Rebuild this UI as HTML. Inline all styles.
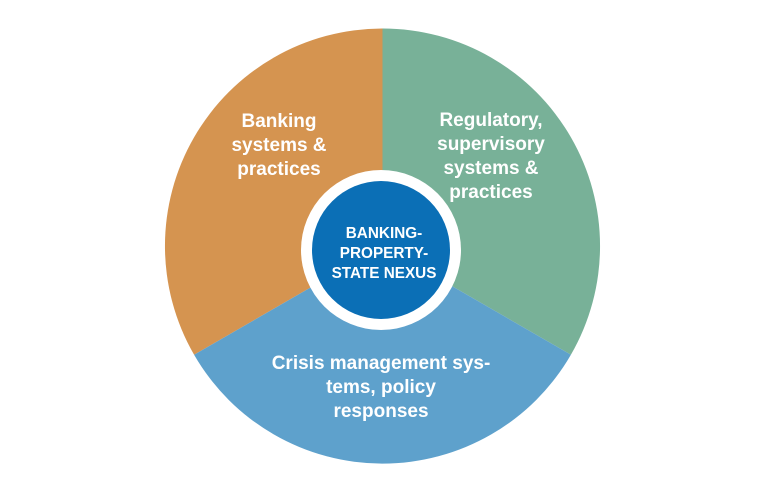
<!DOCTYPE html>
<html><head><meta charset="utf-8"><style>
html,body{margin:0;padding:0;background:#fff;}
svg{display:block;}
text{font-family:"Liberation Sans",sans-serif;font-weight:bold;fill:#fff;text-anchor:middle;}
</style></head><body>
<svg width="769" height="500" viewBox="0 0 769 500">
<path d="M382.5,246 L382.5,28.5 A217.5,217.5 0 0 0 194.1,354.75 Z" fill="#D59450"/>
<path d="M382.5,246 L382.5,28.5 A217.5,217.5 0 0 1 570.9,354.75 Z" fill="#78B198"/>
<path d="M382.5,246 L194.1,354.75 A217.5,217.5 0 0 0 570.9,354.75 Z" fill="#5EA1CC"/>
<circle cx="381" cy="250" r="80" fill="#fff"/>
<circle cx="381" cy="250" r="69" fill="#0B6FB6"/>
<g font-size="19">
<text x="279" y="127">Banking</text>
<text x="279" y="151">systems &amp;</text>
<text x="279" y="175">practices</text>
<text x="491" y="126">Regulatory,</text>
<text x="491" y="150">supervisory</text>
<text x="491" y="174">systems &amp;</text>
<text x="491" y="198">practices</text>
<text x="381" y="369">Crisis management sys-</text>
<text x="381" y="393">tems, policy</text>
<text x="381" y="417">responses</text>
</g>
<g font-size="15.3">
<text x="384" y="238">BANKING-</text>
<text x="384" y="258">PROPERTY-</text>
<text x="384" y="278">STATE NEXUS</text>
</g>
</svg>
</body></html>
